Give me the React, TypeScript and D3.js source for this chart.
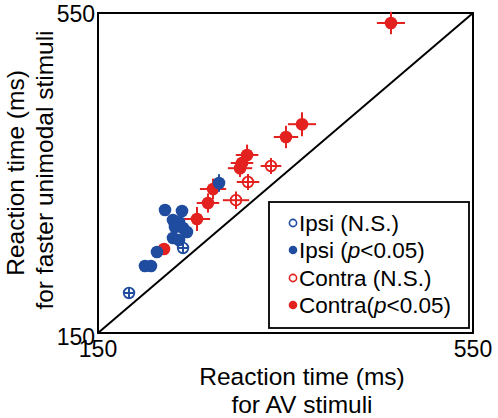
import React from "react";
import * as d3 from "d3";

// ---- data (ms) ----
const contraSigX = [462.5, 367.6, 350.5, 309, 303.6, 301.5, 272.7, 267.3, 255.6, 220.4];
const contraSigY = [537.5, 411, 395, 372.5, 362.5, 356, 330, 312.5, 292.5, 255];
const contraSigEx = [15, 15, 13, 12, 12, 13, 14, 12, 14, 6];
const contraSigEy = [14, 15, 14, 13, 12, 11, 13, 12, 15, 6];

const contraNsX = [334.5, 310, 297.2];
const contraNsY = [358.75, 338.75, 316];
const contraNsEx = [11, 12, 14];
const contraNsEy = [10, 10, 11];

const ipsiSigX = [279.1, 221.5, 239.6, 230, 236.4, 232.1, 240.7, 244.9, 230, 236.4, 212.9, 200.1, 206.5];
const ipsiSigY = [337.5, 303.75, 302.5, 291.25, 288.75, 282.5, 281.25, 276.25, 268.75, 266.25, 251.25, 233.75, 233.75];
const ipsiSigEx = [5, 4, 4, 4, 4, 4, 4, 4, 4, 4, 4, 4, 4];
const ipsiSigEy = [11, 4, 4, 4, 4, 4, 4, 4, 4, 4, 4, 4, 4];

const ipsiNsX = [240.7, 183.1];
const ipsiNsY = [256.25, 200];
const ipsiNsEx = [6, 6];
const ipsiNsEy = [7, 7];

const axisDomain = [150, 550];
const tickLabels = ["150", "550"];
const legendLabels = ["Ipsi (N.S.)", "Ipsi (", "Contra (N.S.)", "Contra("];

const BLUE = "#1f4c9f";
const RED = "#e3211f";
const FONT = "'Liberation Sans', Arial, sans-serif";

export default function App() {
  const left = 98, right = 473, top = 13, bottom = 333;
  const x = d3.scaleLinear().domain(axisDomain).range([left, right]);
  const y = d3.scaleLinear().domain(axisDomain).range([bottom, top]);

  const errBars = (xs: number[], ys: number[], exs: number[], eys: number[], color: string, key: string) =>
    xs.map((v, i) => (
      <g key={key + i} stroke={color} strokeWidth={2}>
        <line x1={x(v - exs[i])} x2={x(v + exs[i])} y1={y(ys[i])} y2={y(ys[i])} />
        <line x1={x(v)} x2={x(v)} y1={y(ys[i] - eys[i])} y2={y(ys[i] + eys[i])} />
      </g>
    ));

  const filled = (xs: number[], ys: number[], color: string, key: string) =>
    xs.map((v, i) => <circle key={key + i} cx={x(v)} cy={y(ys[i])} r={6.3} fill={color} />);

  const open = (xs: number[], ys: number[], color: string, key: string) =>
    xs.map((v, i) => (
      <circle key={key + i} cx={x(v)} cy={y(ys[i])} r={5.3} fill="none" stroke={color} strokeWidth={1.8} />
    ));

  const legendRows = [223, 250, 278, 305];
  const legendColors = [BLUE, BLUE, RED, RED];
  const legendFilled = [false, true, false, true];

  return (
    <svg width={498} height={418} style={{ position: "absolute", left: 0, top: 0, background: "#fff" }} fontFamily={FONT}>
      <rect x={0} y={0} width={498} height={418} fill="#fff" />
      {/* frame */}
      <rect x={left} y={top} width={right - left} height={bottom - top} fill="none" stroke="#000" strokeWidth={2} />
      {/* diagonal */}
      <line x1={x(150)} y1={y(150)} x2={x(550)} y2={y(550)} stroke="#000" strokeWidth={2} />

      {/* contra */}
      {errBars(contraNsX, contraNsY, contraNsEx, contraNsEy, RED, "cne")}
      {open(contraNsX, contraNsY, RED, "cno")}
      {errBars(contraSigX, contraSigY, contraSigEx, contraSigEy, RED, "cse")}
      {filled(contraSigX, contraSigY, RED, "csf")}
      {/* ipsi */}
      {errBars(ipsiSigX, ipsiSigY, ipsiSigEx, ipsiSigEy, BLUE, "ise")}
      {filled(ipsiSigX, ipsiSigY, BLUE, "isf")}
      {errBars(ipsiNsX, ipsiNsY, ipsiNsEx, ipsiNsEy, BLUE, "ine")}
      {open(ipsiNsX, ipsiNsY, BLUE, "ino")}

      {/* tick labels */}
      <text x={x(150)} y={357} fontSize={23} textAnchor="middle">{tickLabels[0]}</text>
      <text x={x(550)} y={357} fontSize={23} textAnchor="middle">{tickLabels[1]}</text>
      <text x={95} y={y(150) + 12} fontSize={23} textAnchor="end">{tickLabels[0]}</text>
      <text x={95} y={y(550) + 9} fontSize={23} textAnchor="end">{tickLabels[1]}</text>

      {/* axis titles */}
      <text x={302} y={385} fontSize={24.5} textAnchor="middle">Reaction time (ms)</text>
      <text x={302} y={413} fontSize={24.5} textAnchor="middle">for AV stimuli</text>
      <text transform="translate(24,173) rotate(-90)" fontSize={24.5} textAnchor="middle">Reaction time (ms)</text>
      <text transform="translate(53,170) rotate(-90)" fontSize={24.5} textAnchor="middle">for faster unimodal stimuli</text>

      {/* legend */}
      <rect x={269} y={202} width={200} height={126} fill="#fff" stroke="#000" strokeWidth={1.8} />
      {legendRows.map((ry, i) => (
        <g key={"lg" + i}>
          {legendFilled[i] ? (
            <circle cx={293} cy={ry} r={4.3} fill={legendColors[i]} />
          ) : (
            <circle cx={293} cy={ry} r={3.6} fill="none" stroke={legendColors[i]} strokeWidth={1.6} />
          )}
          <text x={299} y={ry + 8} fontSize={22.5}>
            {legendLabels[i]}
            {i % 2 === 1 ? (
              <>
                <tspan fontStyle="italic">p</tspan>
                {"<0.05)"}
              </>
            ) : null}
          </text>
        </g>
      ))}
    </svg>
  );
}
